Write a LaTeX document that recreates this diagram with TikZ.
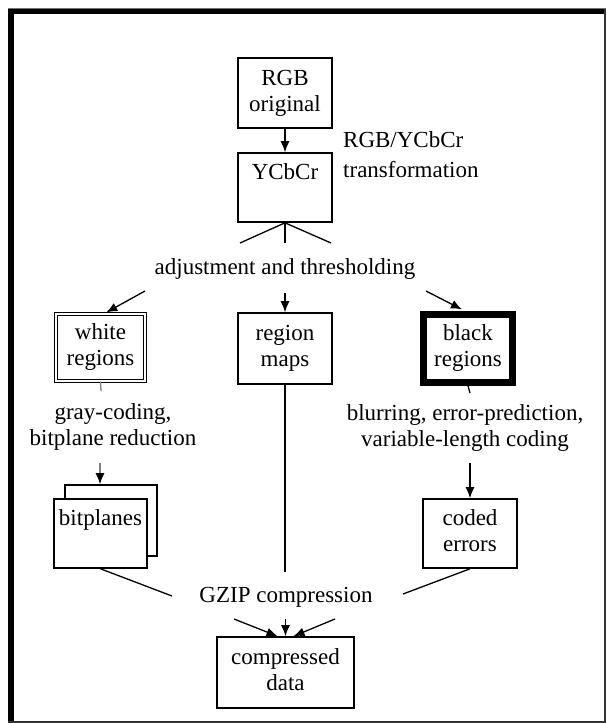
\documentclass[tikz,border=0pt]{standalone}
\usepackage{fontspec}
\setmainfont{Liberation Serif}
\usetikzlibrary{arrows.meta}
\newcommand\lstrut{\rule[-5pt]{0pt}{20pt}}
\begin{document}
\begin{tikzpicture}[x=1pt,y=-1pt,
  every node/.style={font=\fontsize{23}{26}\selectfont, inner sep=0pt},
  box/.style={draw, line width=1.6pt, align=center, fill=white},
  con/.style={line width=1.3pt},
  arr/.style={con,-{Latex[length=11pt,width=9pt]}},
  grayarr/.style={con,draw=gray,-{Latex[length=11pt,width=9pt,color=black]}},
]
\useasboundingbox (0,0) rectangle (607,723);
% frame
\draw[line width=1pt, black!55] (8,8.5) -- (606,8.5);
\fill[black] (8,9) rectangle (14,722);
\fill[black] (8,9) rectangle (606,14);
\draw[line width=2pt, black!80] (605,9) -- (605,722);
\draw[line width=2pt, black!80] (8,722) -- (606,722);

% boxes
\node[box, minimum width=94pt, minimum height=70pt] (rgb) at (285,93) {\lstrut RGB\\\lstrut original};
\node[box, minimum width=94pt, minimum height=69pt] (ycc) at (285,187.5) {\lstrut YCbCr\\\lstrut};
\node[align=left, anchor=base west] (trans) at (343,177) {RGB/YCbCr\\[4pt]transformation};
\node[anchor=base] (adj) at (285,274) {adjustment and thresholding};

\node[box, line width=1.2pt, double=white, double distance=2pt, minimum width=89pt, minimum height=67pt] (white) at (100.5,347.5) {\lstrut white\\\lstrut regions};
\node[box, minimum width=94pt, minimum height=71pt] (region) at (285,348.5) {\lstrut region\\\lstrut maps};
\node[box, line width=7pt, minimum width=89pt, minimum height=68pt] (black) at (468,348.5) {\lstrut black\\\lstrut regions};

\node[align=center, anchor=base] (gray) at (113,445) {gray-coding,\\bitplane reduction};
\node[align=center, anchor=base] (blur) at (465,446) {blurring, error-prediction,\\variable-length coding};

\node[box, minimum width=92pt, minimum height=71pt] (bitback) at (111,520.5) {};
\node[box, minimum width=93pt, minimum height=69pt] (bitfront) at (100.5,533.5) {\lstrut bitplanes\\\lstrut};
\node[box, minimum width=94pt, minimum height=69pt] (coded) at (470,533.5) {\lstrut coded\\\lstrut errors};

\node[anchor=base] (gzip) at (286,602) {GZIP compression};
\node[box, minimum width=137pt, minimum height=71pt] (comp) at (285.5,672.5) {\lstrut compressed\\\lstrut data};

% free ends
\coordinate (f1) at (240,243);
\coordinate (f2) at (285,243);
\coordinate (f3) at (331,243);
\coordinate (a1) at (145,291);
\coordinate (a2) at (285,293);
\coordinate (a3) at (426,291);
\coordinate (ws) at (101,391);
\coordinate (ga) at (100,463);
\coordinate (bs) at (470,393);
\coordinate (ca) at (470,463);
\coordinate (rm) at (285,572);
\coordinate (g1) at (172,596);
\coordinate (g2) at (403,594);
\coordinate (h1) at (234,619);
\coordinate (h2) at (285.5,619);
\coordinate (h3) at (335,619);

% connectors
\draw[arr] (rgb) -- (ycc);
\draw[con] (ycc.south) -- (f1);
\draw[con] (ycc.south) -- (f2);
\draw[con] (ycc.south) -- (f3);
\draw[arr, shorten >=2pt] (a1) -- ([xshift=4pt]white.north);
\draw[arr] (a2) -- (region.north);
\draw[arr, shorten >=3.5pt] (a3) -- ([xshift=-3pt]black.north);
\draw[con, draw=gray] (white.south) -- (ws);
\draw[grayarr] (ga) -- (ga |- bitback.north);
\draw[con] (black.south) -- (bs);
\draw[arr] (ca) -- (coded.north);
\draw[con] (region.south) -- (rm);
\draw[con] (bitfront.south) -- (g1);
\draw[con] (coded.south) -- (g2);
\draw[arr] (h1) -- ([xshift=-8pt]comp.north);
\draw[arr] (h2) -- (comp.north);
\draw[arr] (h3) -- ([xshift=8pt]comp.north);
\end{tikzpicture}
\end{document}
